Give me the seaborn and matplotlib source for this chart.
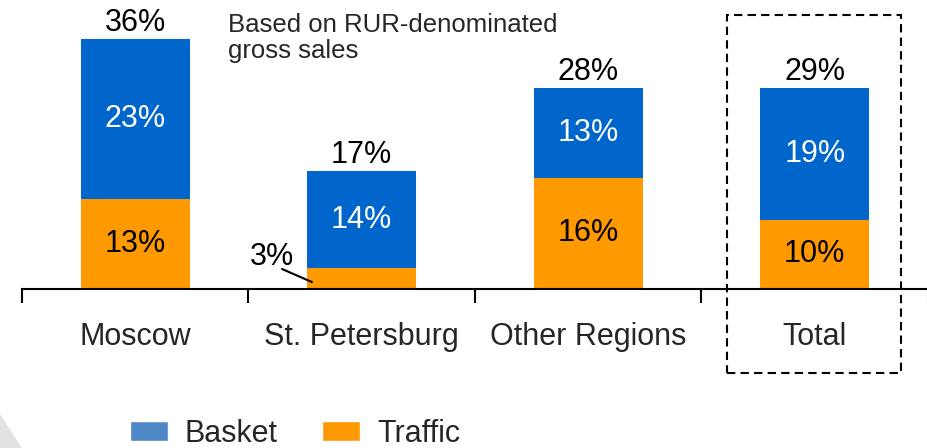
import matplotlib
matplotlib.use("Agg")
import matplotlib.pyplot as plt
from matplotlib.patches import Rectangle, Polygon, Patch
import seaborn as sns
import pandas as pd

categories = ["Moscow", "St. Petersburg", "Other Regions", "Total"]
traffic = [13, 3, 16, 10]
basket = [23, 14, 13, 19]
total_labels = ["36%", "17%", "28%", "29%"]
note = "Based on RUR-denominated\ngross sales"

BLUE = "#0066CC"
LEGEND_BLUE = "#4F88C6"
ORANGE = "#FF9900"
FS = 22

sns.set_theme(style="white")
plt.rcParams["font.family"] = ["Liberation Sans", "DejaVu Sans"]

df = pd.DataFrame({"category": categories, "traffic": traffic, "basket": basket})
df["stack"] = df["traffic"] + df["basket"]

fig = plt.figure(figsize=(9.28, 4.48), dpi=100)
ax = fig.add_axes([22 / 928, 1 - 289 / 448, 906 / 928, 289 / 448])

sns.barplot(data=df, x="category", y="stack", color=BLUE, width=0.48,
            saturation=1, ax=ax, order=categories, linewidth=0)
sns.barplot(data=df, x="category", y="traffic", color=ORANGE, width=0.48,
            saturation=1, ax=ax, order=categories, linewidth=0)

ax.set_xlim(-0.5, 3.5)
ax.set_ylim(0, 41.6)
for s in ["top", "right", "left"]:
    ax.spines[s].set_visible(False)
ax.spines["bottom"].set_color("black")
ax.spines["bottom"].set_linewidth(1.5)
ax.set_yticks([])
ax.set_xlabel("")
ax.set_ylabel("")
ax.set_xticks(range(len(categories)))
ax.set_xticklabels(categories, fontsize=FS)
ax.tick_params(axis="x", which="major", length=0, pad=24)
ax.set_xticks([-0.5, 0.5, 1.5, 2.5, 3.5], minor=True)
ax.tick_params(axis="x", which="minor", length=10, width=1.5, color="black",
               direction="out", bottom=True)

for i in range(len(categories)):
    t, b = traffic[i], basket[i]
    if t >= 5:
        ax.text(i, t / 2, f"{t}%", ha="center", va="center", fontsize=FS, color="black")
    ax.text(i, t + b / 2, f"{b}%", ha="center", va="center", fontsize=FS, color="white")
    ax.text(i, t + b + 0.1, total_labels[i], ha="center", va="bottom", fontsize=FS, color="black")

# small traffic label with leader line for St. Petersburg
ax.text(0.604, 4.6, f"{traffic[1]}%", ha="center", va="center", fontsize=FS, color="black")
ax.plot([0.648, 0.78], [2.88, 1.0], color="black", lw=1.5)

fig.text(228 / 928, 1 - 38 / 448, note, ha="left", va="center", fontsize=18.5,
         linespacing=1.1)

# dashed box around Total
fig.patches.append(Rectangle((727 / 928, 1 - 373 / 448), 174 / 928, 358 / 448,
                             transform=fig.transFigure, fill=False, ec="black",
                             lw=1.5, ls=(0, (4, 2.5))))

# decorative grey corner
fig.patches.append(Polygon([(0, 0), (0, 34 / 448), (22 / 928, 0)],
                           transform=fig.transFigure, closed=True,
                           fc="#e2e2e2", ec="none"))

handles = [Patch(facecolor=LEGEND_BLUE, label="Basket"),
           Patch(facecolor=ORANGE, label="Traffic")]
fig.legend(handles=handles, loc="center", bbox_to_anchor=(0.318, 1 - 434 / 448),
           ncol=2, frameon=False, fontsize=FS, handlelength=1.24, handleheight=0.62,
           handletextpad=0.56, columnspacing=1.45)

fig.savefig("out.png", dpi=100)
